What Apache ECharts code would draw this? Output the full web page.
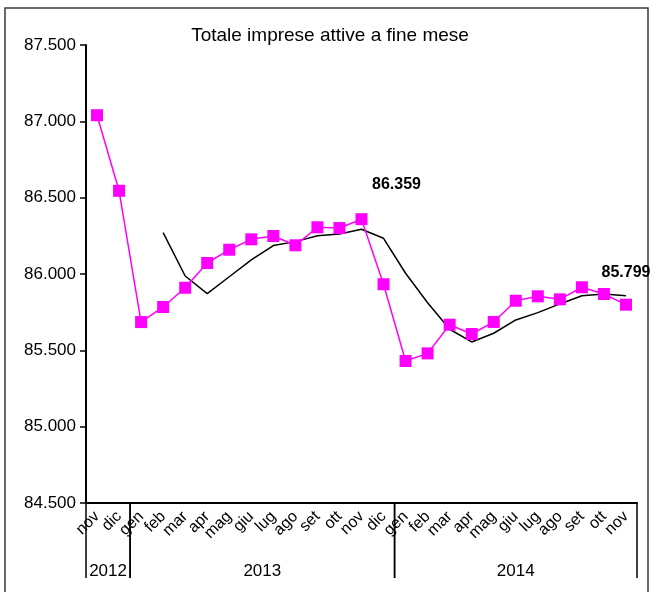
<!DOCTYPE html>
<html>
<head>
<meta charset="utf-8">
<script src="https://cdn.jsdelivr.net/npm/echarts@6/dist/echarts.min.js"></script>
<style>
  html, body { margin: 0; padding: 0; background: #fff; }
  #chart { width: 654px; height: 592px; }
</style>
</head>
<body>
<div id="chart"></div>
<script>
// mesi (nov 2012 -> nov 2014)
const months = ['nov', 'dic',
  'gen', 'feb', 'mar', 'apr', 'mag', 'giu', 'lug', 'ago', 'set', 'ott', 'nov', 'dic',
  'gen', 'feb', 'mar', 'apr', 'mag', 'giu', 'lug', 'ago', 'set', 'ott', 'nov']
const years = ['2012', '2013', '2014']
const yearMonths = [2, 12, 11]

// imprese attive a fine mese
const imprese = [87040, 86545,
  85685, 85784, 85910, 86072, 86159, 86227, 86249, 86188, 86306, 86301, 86359, 85933,
  85430, 85480, 85668, 85607, 85686, 85825, 85854, 85834, 85913, 85869, 85799]
// media mobile
const media = [null, null,
  null, 86271, 85987, 85871, 85982, 86092, 86186, 86212, 86251, 86262, 86293, 86234,
  86005, 85812, 85638, 85555, 85612, 85699, 85747, 85804, 85858, 85869, 85858]

const yTicks = [84500, 85000, 85500, 86000, 86500, 87000, 87500]
const labelled = { 12: [35, -16], 24: [0, -13] } // indice -> offset etichetta

const yMin = yTicks[0]
const yMax = yTicks[yTicks.length - 1]
const font = 'Liberation Sans, Arial, sans-serif'

function fmt (v) {
  return (v / 1000).toFixed(3)
}

// intervalli anno [inizio, fine]
const yearSpans = []
let start = 0
yearMonths.forEach(n => {
  yearSpans.push([start, start + n - 1])
  start += n
})

const chart = echarts.init(document.getElementById('chart'))

const option = {
  animation: false,
  title: {
    text: 'Totale imprese attive a fine mese',
    left: 325,
    textAlign: 'center',
    top: 21,
    textStyle: {
      fontFamily: font,
      fontSize: 19,
      fontWeight: 'normal',
      color: '#000'
    }
  },
  graphic: [
    {
      type: 'rect',
      shape: { x: 5, y: 8, width: 643, height: 620 },
      style: { fill: 'none', stroke: '#3a3a3a', lineWidth: 1.5 },
      silent: true
    }
  ],
  grid: {
    left: 86,
    right: 17,
    top: 45,
    bottom: 89
  },
  xAxis: {
    type: 'category',
    data: months,
    boundaryGap: true,
    axisLine: { lineStyle: { color: '#000', width: 2 } },
    axisTick: { show: false },
    axisLabel: {
      interval: 0,
      rotate: 45,
      margin: 11,
      color: '#000',
      fontSize: 16,
      fontFamily: font
    }
  },
  yAxis: {
    type: 'value',
    min: yMin,
    max: yMax,
    interval: 500,
    axisLine: { show: true, lineStyle: { color: '#000', width: 2 } },
    axisTick: { show: true, length: 6, lineStyle: { color: '#000', width: 1.5 } },
    splitLine: { show: false },
    axisLabel: {
      formatter: fmt,
      margin: 10,
      color: '#000',
      fontSize: 17,
      fontFamily: font
    }
  },
  series: [
    {
      name: 'media',
      type: 'line',
      data: media,
      symbol: 'none',
      connectNulls: false,
      lineStyle: { color: '#000', width: 1.5 },
      z: 2
    },
    {
      name: 'imprese',
      type: 'line',
      data: imprese.map((v, i) => {
        if (labelled[i]) {
          return {
            value: v,
            label: {
              show: true,
              position: 'top',
              offset: labelled[i],
              formatter: p => fmt(p.value),
              color: '#000',
              fontSize: 16,
              fontWeight: 'bold',
              fontFamily: font
            }
          }
        }
        return v
      }),
      symbol: 'rect',
      symbolSize: 12,
      itemStyle: { color: '#ff00ff' },
      lineStyle: { color: '#ff00ff', width: 1.5 },
      z: 3
    },
    {
      name: 'anni',
      type: 'custom',
      clip: false,
      silent: true,
      encode: { x: [0, 1] },
      data: yearSpans,
      renderItem: function (params, api) {
        const band = api.size([1, 0])[0]
        const a = api.coord([api.value(0), yMin])
        const b = api.coord([api.value(1), yMin])
        const x0 = a[0] - band / 2
        const x1 = b[0] + band / 2
        const y0 = a[1]
        const lineStyle = { stroke: '#000', lineWidth: 1.5 }
        return {
          type: 'group',
          children: [
            { type: 'line', shape: { x1: x0, y1: y0, x2: x0, y2: y0 + 75 }, style: lineStyle },
            { type: 'line', shape: { x1: x1, y1: y0, x2: x1, y2: y0 + 75 }, style: lineStyle },
            {
              type: 'text',
              style: {
                text: years[params.dataIndex],
                x: (x0 + x1) / 2,
                y: y0 + 68,
                align: 'center',
                verticalAlign: 'middle',
                fill: '#000',
                fontSize: 17,
                fontFamily: font
              }
            }
          ]
        }
      }
    }
  ]
}

chart.setOption(option)
</script>
</body>
</html>
